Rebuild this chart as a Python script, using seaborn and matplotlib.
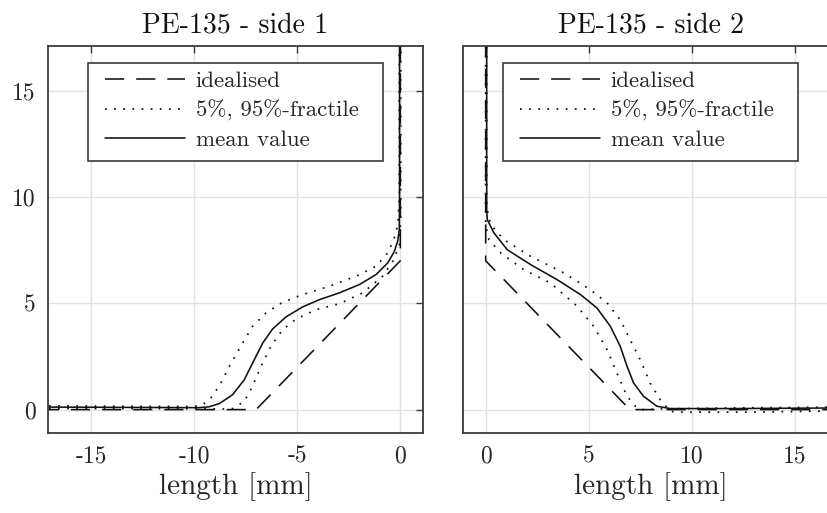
import matplotlib
matplotlib.use("Agg")
import matplotlib.pyplot as plt
from matplotlib.patches import Rectangle
import seaborn as sns

# ---- data ----
# side 1
ideal1_x = [-17.5, -7.0, 0.0, 0.0]
ideal1_y = [0.0, 0.0, 7.0, 17.5]
mean1_x = [-17.5, -12.0, -9.8, -9.3, -8.79, -8.14, -7.57, -7.17, -6.68, -6.2, -5.55, -4.74,
           -3.93, -2.96, -1.99, -1.18, -0.61, -0.29, -0.13, -0.05, -0.04, -0.04]
mean1_y = [0.12, 0.1, 0.09, 0.13, 0.28, 0.7, 1.41, 2.19, 3.13, 3.79, 4.36, 4.83,
           5.17, 5.49, 5.88, 6.35, 6.9, 7.44, 7.92, 8.46, 10.0, 17.5]
hi1_x = [-17.5, -12.0, -10.0, -9.6, -9.2, -8.79, -8.3, -7.65, -7.17, -6.52, -5.71, -4.74,
         -3.45, -2.15, -1.18, -0.61, -0.29, -0.12, -0.05, -0.05]
hi1_y = [0.18, 0.15, 0.15, 0.22, 0.55, 1.1, 2.04, 3.13, 3.92, 4.55, 5.05, 5.41,
         5.8, 6.27, 6.74, 7.37, 8.07, 8.7, 10.0, 17.5]
lo1_x = [-17.5, -12.0, -8.6, -8.14, -7.57, -7.17, -6.76, -6.28, -5.71, -5.06, -4.09,
         -2.96, -1.83, -0.86, -0.37, -0.05, 0.02, 0.02]
lo1_y = [0.05, 0.05, 0.03, 0.05, 0.39, 1.1, 2.04, 2.98, 3.76, 4.26, 4.7,
         4.98, 5.49, 6.27, 6.97, 7.68, 9.0, 17.5]

# side 2
ideal2_x = [0.0, 0.0, 7.0, 17.5]
ideal2_y = [17.5, 7.0, 0.0, 0.0]
mean2_x = [0.05, 0.05, 0.08, 0.4, 1.05, 2.18, 3.47, 4.6, 5.4, 6.05, 6.53, 6.86, 7.18,
           7.66, 8.31, 8.95, 12.0, 17.5]
mean2_y = [17.5, 9.4, 8.93, 8.31, 7.52, 6.82, 6.11, 5.41, 4.78, 3.92, 2.98, 2.04, 1.25,
           0.63, 0.16, 0.05, 0.05, 0.08]
hi2_x = [0.05, 0.05, 0.12, 0.24, 0.89, 2.18, 3.79, 5.08, 5.89, 6.53, 7.01, 7.5, 7.98,
         8.47, 8.95, 9.5, 13.0, 17.5]
hi2_y = [17.5, 9.6, 9.2, 8.7, 7.99, 7.21, 6.43, 5.64, 5.02, 4.23, 3.29, 2.35, 1.25,
         0.47, -0.08, -0.12, -0.12, -0.05]
lo2_x = [0.0, 0.0, 0.05, 0.16, 0.73, 1.85, 3.14, 4.44, 5.24, 5.89, 6.37, 6.86, 7.34,
         7.6, 8.5, 12.0, 17.5]
lo2_y = [17.5, 8.8, 8.45, 7.99, 7.37, 6.58, 5.96, 4.86, 3.92, 2.82, 1.72, 0.63, 0.08,
         0.0, 0.03, 0.08, 0.12]

titles = ["PE-135 - side 1", "PE-135 - side 2"]
xlabel = "length [mm]"
legend_labels = ["idealised", "5%, 95%-fractile", "mean value"]
xticks1 = [-15, -10, -5, 0]
xticks2 = [0, 5, 10, 15]
yticks = [0, 5, 10, 15]

sns.set_theme(style="white")
plt.rcParams["font.family"] = ["cmr10", "DejaVu Serif"]
plt.rcParams["axes.unicode_minus"] = False
plt.rcParams["mathtext.fontset"] = "cm"

fig = plt.figure(figsize=(8.27, 5.13), dpi=100)
W, H = 827.0, 513.0
AX_L, AX_B, AX_W, AX_H = 48, 433, 375, 387  # pixels
ax1 = fig.add_axes([AX_L / W, 1 - AX_B / H, AX_W / W, AX_H / H])
ax2 = fig.add_axes([463 / W, 1 - AX_B / H, AX_W / W, AX_H / H])

DASH = (0, (12, 7.5))
DOT = (0, (1, 4.2))
LC = "#111111"
LW = 1.15

def draw(ax, ix, iy, lx, ly, hx, hy, mx, my):
    sns.lineplot(x=ix, y=iy, ax=ax, sort=False, estimator=None, color=LC, lw=LW,
                 linestyle=DASH, label=legend_labels[0])
    sns.lineplot(x=lx, y=ly, ax=ax, sort=False, estimator=None, color=LC, lw=LW * 1.1,
                 linestyle=DOT, label=legend_labels[1])
    sns.lineplot(x=hx, y=hy, ax=ax, sort=False, estimator=None, color=LC, lw=LW * 1.1,
                 linestyle=DOT, label="_nolegend_")
    sns.lineplot(x=mx, y=my, ax=ax, sort=False, estimator=None, color=LC, lw=LW,
                 linestyle="-", label=legend_labels[2])

draw(ax1, ideal1_x, ideal1_y, lo1_x, lo1_y, hi1_x, hi1_y, mean1_x, mean1_y)
draw(ax2, ideal2_x, ideal2_y, lo2_x, lo2_y, hi2_x, hi2_y, mean2_x, mean2_y)

SP = "#3a3a3a"
# legend frame in pixel offsets from the axes' left/top edges
box_l, box_r, box_t, box_b = 40, 335, 17, 115
for ax, xt, xl, title in [(ax1, xticks1, (-17.1, 1.1), titles[0]),
                          (ax2, xticks2, (-1.1, 17.1), titles[1])]:
    ax.set_xlim(*xl)
    ax.set_ylim(-1.1, 17.1)
    ax.set_xticks(xt)
    ax.set_yticks(yticks)
    ax.set_xticklabels([str(t) for t in xt])
    ax.grid(True, color="#e2e2e2", lw=1.0)
    ax.set_axisbelow(True)
    for s in ax.spines.values():
        s.set_color(SP)
        s.set_linewidth(1.3)
        s.set_visible(True)
    ax.tick_params(direction="in", top=True, right=True, length=5, width=1.0,
                   color=SP, labelcolor="#262626", labelsize=17, pad=9)
    ax.set_xlabel(xlabel, fontsize=21, color="#262626", labelpad=3)
    ax.set_ylabel("")
    ax.set_title(title, fontsize=20, color="#111111", pad=10)
    # frame of the legend (MATLAB-style generous padding)
    ax.add_patch(Rectangle((box_l / AX_W, 1 - box_b / AX_H), (box_r - box_l) / AX_W,
                           (box_b - box_t) / AX_H, transform=ax.transAxes,
                           facecolor="white", edgecolor=SP, lw=1.2, zorder=4.5,
                           clip_on=False))
    ax.legend(loc="upper left", bbox_to_anchor=(57 / AX_W, 1 - 25 / AX_H),
              borderaxespad=0, fontsize=16.5, frameon=False,
              handlelength=3.5, handletextpad=0.45, labelspacing=0.38,
              borderpad=0)

ax2.tick_params(labelleft=False)

fig.savefig("out.png", dpi=100)
